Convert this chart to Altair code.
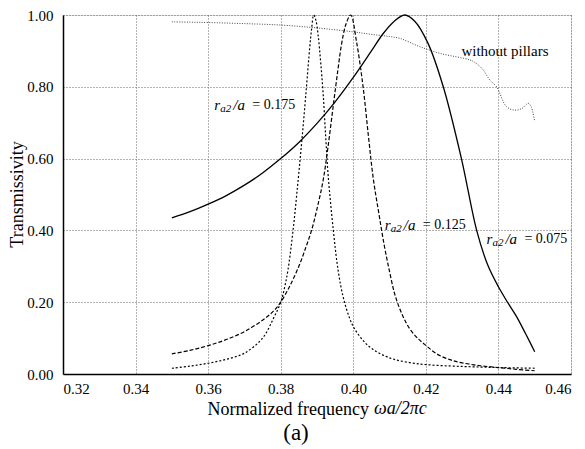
import altair as alt
import pandas as pd

# r_a2/a = 0.075 (solid)
freq_075 = [0.350, 0.355, 0.360, 0.365, 0.370, 0.375, 0.380, 0.385, 0.390, 0.395, 0.400,
            0.405, 0.408, 0.411, 0.4142, 0.417, 0.4206, 0.4248, 0.4298, 0.434, 0.437,
            0.440, 0.4425, 0.445, 0.4475, 0.450]
trans_075 = [0.435, 0.452, 0.473, 0.497, 0.526, 0.560, 0.600, 0.645, 0.698, 0.758, 0.826,
             0.900, 0.945, 0.980, 1.000, 0.982, 0.921, 0.800, 0.600, 0.400, 0.305,
             0.243, 0.200, 0.160, 0.112, 0.062]

# r_a2/a = 0.125 (dashed)
freq_125 = [0.350, 0.355, 0.360, 0.365, 0.370, 0.375, 0.378, 0.380, 0.3825, 0.385, 0.387,
            0.3885, 0.390, 0.3917, 0.393, 0.3945, 0.3958, 0.3968, 0.398, 0.3993, 0.4009,
            0.4027, 0.4042, 0.4055, 0.407, 0.4085, 0.410, 0.4115, 0.4135, 0.4156, 0.418,
            0.4202, 0.423, 0.4266, 0.430, 0.435, 0.440, 0.445, 0.450]
trans_125 = [0.056, 0.066, 0.079, 0.096, 0.118, 0.150, 0.175, 0.200, 0.245, 0.300, 0.355,
             0.400, 0.460, 0.540, 0.630, 0.749, 0.850, 0.921, 0.975, 1.000, 0.925,
             0.800, 0.660, 0.545, 0.450, 0.360, 0.285, 0.220, 0.165, 0.125, 0.097,
             0.078, 0.056, 0.040, 0.031, 0.023, 0.018, 0.013, 0.009]

# r_a2/a = 0.175 (dotted)
freq_175 = [0.350, 0.355, 0.360, 0.365, 0.370, 0.375, 0.378, 0.380, 0.381, 0.382, 0.3834,
            0.3848, 0.386, 0.3871, 0.388, 0.3885, 0.3891, 0.3897, 0.3903, 0.391, 0.3917,
            0.3924, 0.3931, 0.3945, 0.3958, 0.3972, 0.399, 0.4004, 0.403, 0.4055, 0.409,
            0.4119, 0.416, 0.4202, 0.430, 0.440, 0.450]
trans_175 = [0.016, 0.022, 0.030, 0.041, 0.058, 0.100, 0.155, 0.200, 0.238, 0.290, 0.400,
             0.540, 0.670, 0.800, 0.910, 0.960, 1.000, 0.985, 0.945, 0.870, 0.780,
             0.660, 0.550, 0.400, 0.290, 0.215, 0.155, 0.125, 0.090, 0.068, 0.049,
             0.039, 0.031, 0.026, 0.021, 0.018, 0.016]

# without pillars (thin gray dotted)
freq_none = [0.350, 0.355, 0.360, 0.370, 0.380, 0.390, 0.400, 0.405, 0.410, 0.4128, 0.4183,
             0.424, 0.4321, 0.4335, 0.4358, 0.4376, 0.4395, 0.4422, 0.4445, 0.4465, 0.4482,
             0.4490, 0.450]
trans_none = [0.981, 0.980, 0.979, 0.976, 0.972, 0.964, 0.953, 0.946, 0.940, 0.935, 0.912,
              0.893, 0.875, 0.868, 0.847, 0.819, 0.800, 0.745, 0.735, 0.740, 0.754,
              0.745, 0.703]

# curve labels
label_vals = ["0.175", "0.125", "0.075"]
label_f = [0.3617, 0.4087, 0.4367]
label_t = [0.750, 0.414, 0.377]

x_ticks = [0.32, 0.34, 0.36, 0.38, 0.40, 0.42, 0.44, 0.46]
y_ticks = [0.0, 0.2, 0.4, 0.6, 0.8, 1.0]

FONT = "Liberation Serif"

xs = alt.Scale(domain=[0.32, 0.46], nice=False, zero=False)
ys = alt.Scale(domain=[0, 1], nice=False)

X = alt.X("f:Q", scale=xs, axis=alt.Axis(
    values=x_ticks, format=".2f", title="Normalized frequency",
    titleX=144, titleY=35, titleAlign="left", titleBaseline="middle", titleAnchor="start",
    titleFont=FONT, titleFontSize=18, titleFontWeight="normal", titleColor="black",
    labelFont=FONT, labelFontSize=15, labelColor="black", labelPadding=7,
    ticks=False, tickSize=0, domainColor="black", domainWidth=1.5,
    grid=True, gridColor="#666", gridDash=[1, 2], gridWidth=1,
))
Y = alt.Y("T:Q", scale=ys, axis=alt.Axis(
    values=y_ticks, format=".2f", title="Transmissivity",
    titleX=-46, titleY=179, titleAngle=-90, titleAlign="center", titleBaseline="middle",
    titleFont=FONT, titleFontSize=18, titleFontWeight="normal", titleColor="black",
    labelFont=FONT, labelFontSize=15, labelColor="black", labelPadding=10,
    ticks=False, tickSize=0, domainColor="black", domainWidth=1.5,
    grid=True, gridColor="#666", gridDash=[1, 2], gridWidth=1,
))


def line(freqs, trans, **kw):
    df = pd.DataFrame({"f": freqs, "T": trans})
    return alt.Chart(df).mark_line(interpolate="catmull-rom", **kw).encode(x=X, y=Y)


l_none = line(freq_none, trans_none, color="#444", strokeWidth=1, strokeDash=[1, 1.5])
l_075 = line(freq_075, trans_075, color="black", strokeWidth=1.3)
l_125 = line(freq_125, trans_125, color="black", strokeWidth=1.2, strokeDash=[4, 2])
l_175 = line(freq_175, trans_175, color="black", strokeWidth=1.2, strokeDash=[2, 2])

lab_df = pd.DataFrame({"f": label_f, "T": label_t, "v": ["= " + v for v in label_vals]})
base_lab = alt.Chart(lab_df)
t_r = base_lab.mark_text(align="left", baseline="middle", font=FONT, fontSize=15,
                         fontStyle="italic", color="black").encode(x=X, y=Y, text=alt.value("r"))
t_sub = base_lab.mark_text(align="left", baseline="middle", font=FONT, fontSize=11,
                           fontStyle="italic", color="black", dx=6, dy=4).encode(x=X, y=Y, text=alt.value("a2"))
t_sl = base_lab.mark_text(align="left", baseline="middle", font=FONT, fontSize=15,
                          fontStyle="italic", color="black", dx=19).encode(x=X, y=Y, text=alt.value("/a"))
t_eq = base_lab.mark_text(align="left", baseline="middle", font=FONT, fontSize=14,
                          color="black", dx=38).encode(x=X, y=Y, text="v:N")

wp_df = pd.DataFrame({"f": [0.4298], "T": [0.899], "t": ["without pillars"]})
t_wp = alt.Chart(wp_df).mark_text(align="left", baseline="middle", font=FONT, fontSize=15,
                                  color="black").encode(x=X, y=Y, text="t:N")

math_df = pd.DataFrame({"t": ["ωa/2πc"]})
t_math = alt.Chart(math_df).mark_text(align="left", baseline="middle", font=FONT, fontSize=18,
                                      fontStyle="italic", color="black").encode(
    x=alt.value(311), y=alt.value(394), text="t:N")

a_df = pd.DataFrame({"t": ["(a)"]})
t_a = alt.Chart(a_df).mark_text(align="center", baseline="middle", font=FONT, fontSize=23,
                                color="black").encode(
    x=alt.value(233), y=alt.value(418), text="t:N")

chart = alt.layer(l_none, l_075, l_125, l_175, t_r, t_sub, t_sl, t_eq, t_wp, t_math, t_a).properties(
    width=508, height=359,
    autosize=alt.AutoSizeParams(type="none"),
    padding={"left": 55, "top": 7, "right": 6, "bottom": 72},
).configure_view(stroke="black", strokeWidth=1.5).configure(background="white")

chart.save("out.html", embed_options={"renderer": "svg", "actions": False})
